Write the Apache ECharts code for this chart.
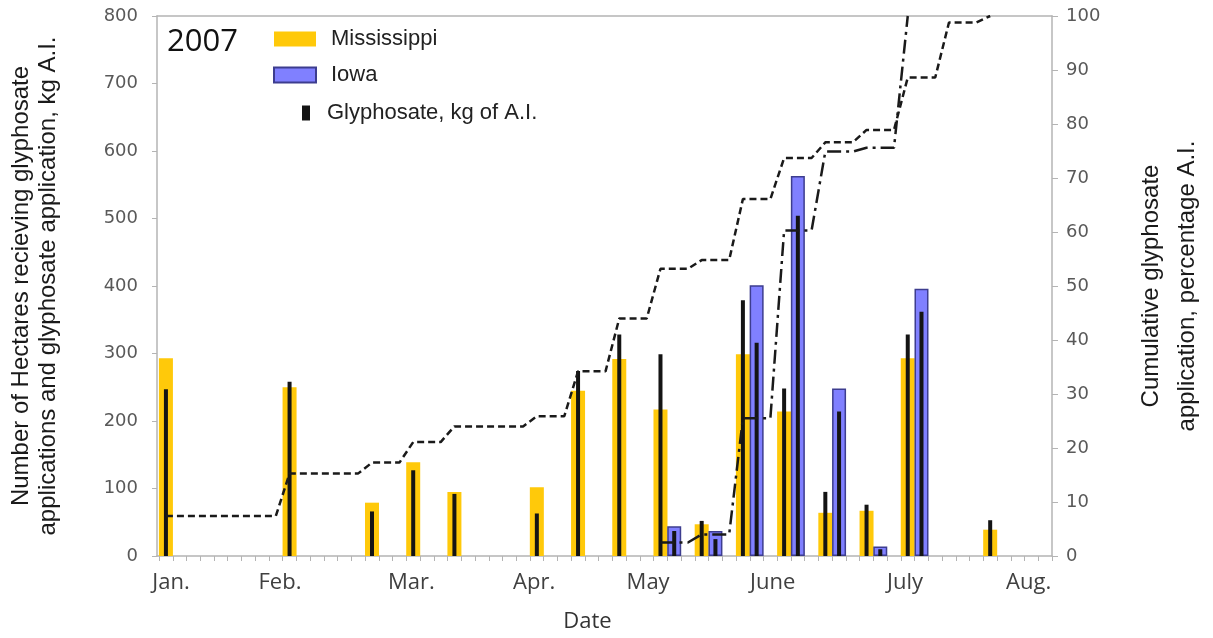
<!DOCTYPE html>
<html><head><meta charset="utf-8">
<script src="https://cdn.jsdelivr.net/npm/echarts@6/dist/echarts.min.js"></script>
<style>html,body{margin:0;padding:0;background:#fff}#c{width:1213px;height:638px}</style>
</head><body><div id="c"></div>
<script>
// x positions are time slots (three slots per sampling interval)
const missSlots = [0, 9, 15, 18, 21, 27, 30, 33, 36, 39, 42, 45, 48, 51, 54, 60];
const missHectares = [293, 250, 79, 139, 95, 102, 245, 292, 217, 47, 299, 214, 64, 67, 293, 39];
const missGlyphKg = [247, 258, 66, 127, 92, 63, 274, 328, 299, 52, 379, 248, 95, 76, 328, 53];
const iowaSlots = [37, 40, 43, 46, 49, 52, 55];
const iowaHectares = [44, 37, 401, 563, 248, 14, 396];
const iowaGlyphKg = [37, 25, 316, 504, 214, 10, 362];
const missCumSlots = [0, 9, 15, 18, 21, 27, 30, 33, 36, 39, 42, 45, 48, 51, 54, 57, 60];
const missCumPct = [7.4, 15.3, 17.3, 21.1, 24.0, 25.9, 34.2, 44.0, 53.2, 54.8, 66.1, 73.7, 76.6, 78.9, 88.6, 98.8, 100];
const iowaCumSlots = [36, 39, 42, 45, 48, 51, 54];
const iowaCumPct = [2.5, 4.0, 25.5, 60.3, 74.9, 75.6, 100];
const monthPos = [0.37, 8.3, 17.86, 26.8, 35.1, 44.17, 53.8, 62.8];
const monthLabels = ['Jan.', 'Feb.', 'Mar.', 'Apr.', 'May', 'June', 'July', 'Aug.'];

function stepLine(slots, pct) {
  const pts = [[slots[0], pct[0]]];
  for (let i = 1; i < slots.length; i++) {
    pts.push([slots[i] - 1, pct[i - 1]]);
    pts.push([slots[i], pct[i]]);
  }
  return pts;
}
function monthName(v) {
  let best = 0;
  for (let j = 1; j < monthPos.length; j++) {
    if (Math.abs(monthPos[j] - v) < Math.abs(monthPos[best] - v)) best = j;
  }
  return monthLabels[best];
}
const slotTicks = [];
for (let k = -1; k <= 64; k++) slotTicks.push(k + 0.5);

const glyphData = missSlots.map((s, i) => [s, missGlyphKg[i]])
  .concat(iowaSlots.map((s, i) => [s, iowaGlyphKg[i]]));

const axisGray = '#b4b4b4';
const tickFont = { fontFamily: 'DejaVu Sans', fontSize: 18, color: '#595959' };
const titleFont = { fontFamily: 'Liberation Sans', fontSize: 24, color: '#1a1a1a' };
const legendText = { fontFamily: 'Liberation Sans', fontSize: 22, color: '#222', lineHeight: 22 };

const chart = echarts.init(document.getElementById('c'), null, { renderer: 'canvas' });
chart.setOption({
  animation: false,
  backgroundColor: '#fff',
  title: {
    text: '2007', left: 167, top: 27, padding: 0,
    textStyle: { fontFamily: 'Open Sans', fontSize: 31, fontWeight: 'normal', color: '#111' }
  },
  legend: [
    {
      data: ['Mississippi', 'Iowa'], orient: 'vertical', left: 273, top: 28, padding: 0,
      itemWidth: 42, itemHeight: 15, itemGap: 14, icon: 'rect', selectedMode: false,
      textStyle: Object.assign({ padding: [0, 0, 0, 10] }, legendText)
    },
    {
      data: ['Glyphosate, kg of A.I.'], orient: 'vertical', left: 302, top: 102, padding: 0,
      itemWidth: 8, itemHeight: 15, icon: 'rect', selectedMode: false,
      textStyle: Object.assign({ padding: [0, 0, 0, 12] }, legendText)
    }
  ],
  grid: { left: 157, right: 160, top: 16, bottom: 76, containLabel: false },
  xAxis: [
    {
      type: 'value', min: -0.65, max: 64.5, position: 'bottom',
      name: 'Date', nameLocation: 'middle', nameGap: 55,
      nameTextStyle: { fontFamily: 'Open Sans', fontSize: 22, color: '#333', padding: [0, 34, 0, 0] },
      axisLine: { show: true, onZero: false, lineStyle: { color: axisGray, width: 1.5 } },
      axisTick: { show: true, customValues: slotTicks, length: 5, lineStyle: { color: axisGray, width: 1 } },
      axisLabel: {
        show: true, customValues: monthPos, margin: 16,
        formatter: function (v) { return monthName(v); },
        fontFamily: 'Open Sans', fontSize: 22, color: '#404040'
      },
      splitLine: { show: false }
    },
    {
      type: 'value', min: -0.65, max: 64.5, position: 'top',
      axisLine: { show: true, onZero: false, lineStyle: { color: axisGray, width: 1.5 } },
      axisTick: { show: false }, axisLabel: { show: false }, splitLine: { show: false }
    }
  ],
  yAxis: [
    {
      type: 'value', min: 0, max: 800, interval: 100, position: 'left',
      name: 'Number of Hectares recieving glyphosate\napplications and glyphosate application, kg A.I.',
      nameLocation: 'middle', nameRotate: 90, nameGap: 95,
      nameTextStyle: Object.assign({ lineHeight: 27 }, titleFont),
      axisLine: { show: true, onZero: false, lineStyle: { color: axisGray, width: 1.5 } },
      axisTick: { show: true, length: 5, lineStyle: { color: axisGray } },
      axisLabel: Object.assign({ margin: 19 }, tickFont),
      splitLine: { show: false }
    },
    {
      type: 'value', min: 0, max: 100, interval: 10, position: 'right',
      name: 'Cumulative glyphosate\napplication, percentage A.I.',
      nameLocation: 'middle', nameRotate: 90, nameGap: 81,
      nameTextStyle: Object.assign({ lineHeight: 36 }, titleFont),
      axisLine: { show: true, onZero: false, lineStyle: { color: axisGray, width: 1.5 } },
      axisTick: { show: true, length: 6, lineStyle: { color: axisGray } },
      axisLabel: Object.assign({ margin: 14 }, tickFont),
      splitLine: { show: false }
    }
  ],
  series: [
    {
      name: 'Mississippi', type: 'bar', xAxisIndex: 0, yAxisIndex: 0,
      barWidth: 14, barGap: '-100%',
      itemStyle: { color: '#ffc90a' },
      data: missSlots.map((s, i) => [s, missHectares[i]])
    },
    {
      name: 'Iowa', type: 'bar', xAxisIndex: 0, yAxisIndex: 0,
      barWidth: 14, barGap: '-100%',
      itemStyle: { color: '#8080ff', borderColor: '#3d3d8f', borderWidth: 1.5 },
      data: iowaSlots.map((s, i) => [s, iowaHectares[i]])
    },
    {
      name: 'Glyphosate, kg of A.I.', type: 'bar', xAxisIndex: 1, yAxisIndex: 0,
      barWidth: 4,
      itemStyle: { color: '#141414' },
      data: glyphData
    },
    {
      name: 'Mississippi cumulative', type: 'line', xAxisIndex: 0, yAxisIndex: 1,
      showSymbol: false, z: 5,
      lineStyle: { color: '#1a1a1a', width: 2.5, type: [7, 4] },
      data: stepLine(missCumSlots, missCumPct)
    },
    {
      name: 'Iowa cumulative', type: 'line', xAxisIndex: 0, yAxisIndex: 1,
      showSymbol: false, z: 5,
      lineStyle: { color: '#1a1a1a', width: 2.5, type: [14, 5, 3, 5] },
      data: stepLine(iowaCumSlots, iowaCumPct)
    }
  ]
});
</script>
</body></html>
